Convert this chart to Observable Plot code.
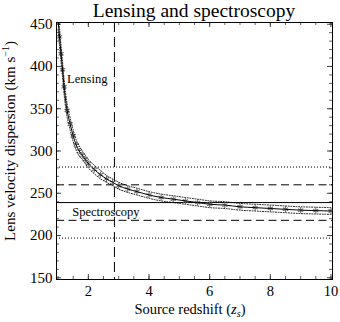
<!DOCTYPE html>
<html><head><meta charset="utf-8">
<script src="https://cdn.jsdelivr.net/npm/d3@7"></script>
<script src="https://cdn.jsdelivr.net/npm/@observablehq/plot@0.6"></script>
<style>
body{margin:0;background:#fff;font-family:"Liberation Serif",serif;}
#title{height:21px;line-height:21px;width:292px;padding-left:48px;text-align:center;font-size:19.5px;color:#000;white-space:nowrap;}
#chart{width:340px;height:301px;}
</style></head><body>
<div id="title">Lensing and spectroscopy</div>
<div id="chart"></div>
<script>
// Lensing curve (source redshift vs. lens velocity dispersion)
const zs       = [1.0,1.05,1.1,1.15,1.2,1.3,1.4,1.5,1.6,1.7,1.8,1.9,2.0,2.2,2.4,2.6,2.8,3.0,3.3,3.6,4.0,4.4,4.8,5.2,5.6,6.0,6.5,7.0,7.5,8.0,8.5,9.0,9.5,10];
const sigmaLens= [455,435,415,396,376,348,332,318,307,300,295,290,285,278,272,267,263,259,255,252,248,245,243,241,239,237,236,234,233,232,231,230,229.5,229];
const sigmaHi  = [466,446,425,405,385,356,339,325,313,306,300,295,290,283,277,271,267,263,259,256,252,249,247,245,243,241,240,238,237,236,235,234,233.5,233];
const sigmaLo  = [444,424,405,387,367,340,325,311,301,294,290,285,280,273,267,263,259,255,251,248,244,241,239,237,235,233,232,230,229,228,227,226,225.5,225];
// Spectroscopy measurement
const specMean = [239];
const spec1sig = [218, 260];
const spec2sig = [197, 281];
// Source redshift marker
const zMark = [2.86];
// Ticks
const xTicks = [2,4,6,8,10];
const yTicks = [150,200,250,300,350,400,450];
const xMinor = d3.range(1, 10.01, 0.5);
const yMinor = d3.range(150, 451, 10);
// Annotations
const labels = [{z:1.3, s:381, t:"Lensing"},{z:1.47, s:223, t:"Spectroscopy"}];

const curve = zs.map((z,i)=>({z, s:sigmaLens[i], hi:sigmaHi[i], lo:sigmaLo[i]}));
const FW = 340-56-8, FH = 300-1-42;

const plot = Plot.plot({
  width: 340, height: 300,
  marginTop: 1, marginLeft: 56, marginRight: 8, marginBottom: 42,
  style: {fontFamily: "Liberation Serif, serif", fontSize: "15px", color: "#000", background: "#fff", overflow: "visible"},
  x: {domain: [0.95, 10.05]},
  y: {domain: [148, 452]},
  marks: [
    Plot.axisX(xTicks, {tickSize: 0, tickPadding: 6, label: null, fontSize: 14.5}),
    Plot.axisY(yTicks, {tickSize: 0, tickPadding: 4, label: null, fontSize: 15}),
    // inner minor ticks
    Plot.ruleX(xMinor, {insetTop: FH-3, stroke: "#666"}),
    Plot.ruleX(xMinor, {insetBottom: FH-3, stroke: "#666"}),
    Plot.ruleY(yMinor, {insetRight: FW-3, stroke: "#666"}),
    Plot.ruleY(yMinor, {insetLeft: FW-3, stroke: "#666"}),
    // inner major ticks
    Plot.ruleX(xTicks, {insetTop: FH-5, stroke: "#444"}),
    Plot.ruleX(xTicks, {insetBottom: FH-5, stroke: "#444"}),
    Plot.ruleY(yTicks, {insetRight: FW-5, stroke: "#444"}),
    Plot.ruleY(yTicks, {insetLeft: FW-5, stroke: "#444"}),
    // spectroscopy
    Plot.ruleY(spec2sig, {stroke: "#000", strokeDasharray: "1,2", strokeWidth: 1}),
    Plot.ruleY(spec1sig, {stroke: "#000", strokeDasharray: "8,4.5", strokeWidth: 1}),
    Plot.ruleY(specMean, {stroke: "#000", strokeWidth: 1}),
    Plot.ruleX(zMark, {stroke: "#000", strokeDasharray: "10,5", strokeWidth: 1}),
    // lensing curve
    Plot.dot(curve, {x: "z", y: "s", symbol: "asterisk", r: 2.8, stroke: "#707070", strokeWidth: 1.1, clip: true}),
    Plot.line(curve, {x: "z", y: "hi", curve: "monotone-x", stroke: "#000", strokeDasharray: "1,1.6", strokeWidth: 0.9, clip: true}),
    Plot.line(curve, {x: "z", y: "lo", curve: "monotone-x", stroke: "#000", strokeDasharray: "1,1.6", strokeWidth: 0.9, clip: true}),
    Plot.line(curve, {x: "z", y: "s", curve: "monotone-x", stroke: "#000", strokeWidth: 1, clip: true}),
    Plot.text(labels, {x: "z", y: "s", text: "t", textAnchor: "start", lineAnchor: "bottom", fontSize: 12.5, fill: "#000"}),
    Plot.frame({stroke: "#000"})
  ]
});
document.getElementById("chart").appendChild(plot);

const svg = d3.select(plot);
// x axis label
const xl = svg.append("text").attr("x", 190).attr("y", 293).attr("text-anchor", "middle")
  .attr("font-size", 14.5).attr("fill", "#000").attr("font-family", "Liberation Serif, serif");
xl.append("tspan").text("Source redshift (");
xl.append("tspan").attr("font-style", "italic").text("z");
xl.append("tspan").attr("font-style", "italic").attr("font-size", 10).attr("dy", 3).text("s");
xl.append("tspan").attr("dy", -3).text(")");
// y axis label
const yl = svg.append("text").attr("transform", "translate(15,120) rotate(-90)").attr("text-anchor", "middle")
  .attr("font-size", 15).attr("fill", "#000").attr("font-family", "Liberation Serif, serif");
yl.append("tspan").text("Lens velocity dispersion (km s");
yl.append("tspan").attr("font-size", 10).attr("dy", -6).text("\u22121");
yl.append("tspan").attr("dy", 6).text(")");
</script>
</body></html>
